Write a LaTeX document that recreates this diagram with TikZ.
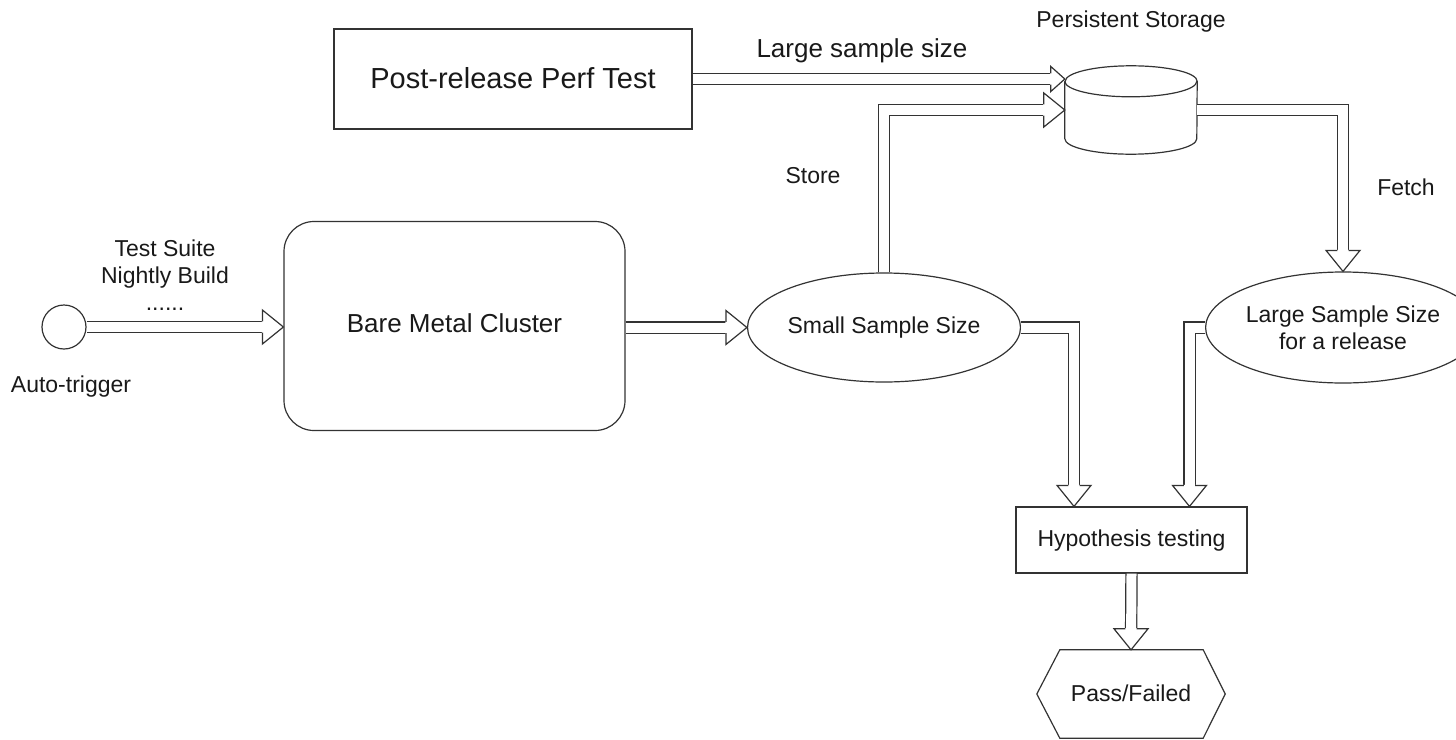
\documentclass[tikz,border=0pt]{standalone}
\usepackage{fontspec}
\setmainfont{Liberation Sans}
\usetikzlibrary{shapes.geometric,calc}

\tikzset{
  x=1pt, y=1pt,
  ink/.style={draw=black!80, line width=1.2pt},
  txt/.style={font=\fontsize{23}{27}\selectfont, text=black!90},
  shapebox/.style={ink, txt, inner sep=0pt, text height=16.6pt, text depth=4.6pt},
  bigtext/.style={font=\fontsize{26}{30}\selectfont, text height=18.7pt, text depth=5.2pt},
  hugetext/.style={font=\fontsize{29}{34}\selectfont, text height=20.9pt, text depth=1pt},
  lbl/.style={txt, inner sep=0pt, anchor=base},
  flow/.style={draw=black!80, line width=1.2pt, double=white, double distance=10pt,
               line join=miter, line cap=butt, shorten >=21pt},
  thinflow/.style={flow, shorten >=14pt},
  % open block-arrow head, tip at the origin, pointing along +x
  bighead/.pic={
    \fill[white] (-21.6,-17) -- (0,0) -- (-21.6,17) -- cycle;
    \draw[draw=black!80, line width=1.2pt, line join=miter]
      (-21,5.6) -- (-21,17) -- (0,0) -- (-21,-17) -- (-21,-5.6);
  },
  smallhead/.pic={
    \fill[white] (-14.6,-12.5) -- (0,0) -- (-14.6,12.5) -- cycle;
    \draw[draw=black!80, line width=1.2pt, line join=miter]
      (-14,5.6) -- (-14,12.5) -- (0,0) -- (-14,-12.5) -- (-14,-5.6);
  },
}

\begin{document}
\begin{tikzpicture}
\useasboundingbox (0,0) rectangle (1456,-739);

% ---- shapes ----
\node[ink, circle, minimum size=44pt, inner sep=0pt] (trig) at (64,-327) {};
\node[shapebox, bigtext, rectangle, rounded corners=30pt, minimum width=341pt, minimum height=209pt]
      (bmc) at (454.5,-326) {Bare Metal Cluster};
\node[shapebox, ellipse, minimum width=232pt, minimum height=109pt] (small) at (884,-327.5) {Small Sample Size};
\node[shapebox, hugetext, rectangle, minimum width=358pt, minimum height=100pt]
      (perf) at (513,-79) {Post-release Perf Test};
\node[ink, txt, ellipse, minimum width=226pt, minimum height=111pt, inner sep=0pt, align=center]
      (large) at (1343,-327.5) {Large Sample Size\\for a release};
\node[shapebox, rectangle, minimum width=231pt, minimum height=66pt] (hyp) at (1131.5,-540) {Hypothesis testing};
\node[txt, inner sep=0pt, text height=16.6pt, text depth=2.6pt,
      minimum width=188pt, minimum height=88pt] (pass) at (1131,-694) {Pass/Failed};
\draw[ink, line join=miter]
  (pass.west) -- ($(pass.north west)+(23,0)$) -- ($(pass.north east)+(-22,0)$)
  -- (pass.east) -- ($(pass.south east)+(-22,0)$) -- ($(pass.south west)+(23,0)$) -- cycle;

% storage cylinder
\node[minimum width=132pt, minimum height=88pt, inner sep=0pt] (cyl) at (1131,-110) {};
\draw[ink, fill=white]
  ($(cyl.north west)+(0,-15.5)$) -- ($(cyl.south west)+(0,15.5)$)
  arc[start angle=180, end angle=360, x radius=66, y radius=15.5]
  -- ($(cyl.north east)+(0,-15.5)$)
  arc[start angle=0, end angle=180, x radius=66, y radius=15.5];
\draw[ink] ($(cyl.north west)+(0,-15.5)$)
  arc[start angle=180, end angle=360, x radius=66, y radius=15.5];

% ---- connectors ----
\draw[flow] (trig.east) -- (trig.east -| bmc.west);
\pic at (trig.east -| bmc.west) {bighead};

\draw[flow] (small.west -| bmc.east) -- (small.west);
\pic at (small.west) {bighead};

\draw[thinflow] (perf.east) -- (perf.east -| cyl.west);
\pic at (perf.east -| cyl.west) {smallhead};

\draw[flow] (small.north) |- (cyl.west);
\pic at (cyl.west) {bighead};

\draw[flow] (cyl.east) -| (large.north);
\pic[rotate=-90] at (large.north) {bighead};

\coordinate (hypL) at ($(hyp.north)+(-57.5,0)$);
\coordinate (hypR) at ($(hyp.north)+(58,0)$);
\draw[flow] (small.east) -| (hypL);
\pic[rotate=-90] at (hypL) {bighead};

\draw[flow] (large.west) -| (hypR);
\pic[rotate=-90] at (hypR) {bighead};

\draw[flow] (hyp.south) -- (pass.north);
\pic[rotate=-90] at (pass.north) {bighead};

% ---- labels ----
\node[lbl] (ts1) at (165,-256) {Test Suite};
\node[lbl] (ts2) at (165,-283) {Nightly Build};
\node[lbl] (ts3) at (165,-310) {......};
\node[lbl] (auto) at (71,-392) {Auto-trigger};
\node[lbl, font=\fontsize{26}{30}\selectfont] (lss) at (862,-57) {Large sample size};
\node[lbl] (ps) at (1131,-27) {Persistent Storage};
\node[lbl] (store) at (813,-183) {Store};
\node[lbl] (fetch) at (1406,-195) {Fetch};
\end{tikzpicture}
\end{document}
